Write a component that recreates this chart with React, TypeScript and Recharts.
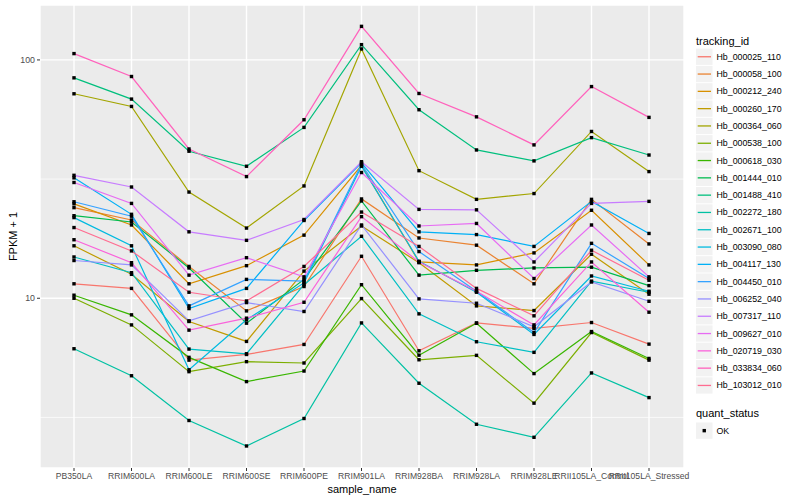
import React from 'react';
import { LineChart, Line, XAxis, YAxis, CartesianGrid } from 'recharts';

const categories = [
  'PB350LA', 'RRIM600LA', 'RRIM600LE', 'RRIM600SE', 'RRIM600PE', 'RRIM901LA',
  'RRIM928BA', 'RRIM928LA', 'RRIM928LE', 'RRII105LA_Control', 'RRII105LA_Stressed',
];

const hb_000025_110 = [11.5, 11.0, 5.5, 5.81, 6.4, 15.0, 6.02, 7.88, 7.47, 7.91, 6.42];
const hb_000058_100 = [24.0, 21.3, 13.6, 8.85, 11.2, 26.1, 17.9, 16.7, 11.5, 26.0, 16.9];
const hb_000212_240 = [24.9, 20.3, 11.5, 13.7, 18.4, 36.1, 14.2, 13.8, 15.5, 23.4, 13.8];
const hb_000260_170 = [16.6, 12.6, 7.99, 6.59, 13.0, 20.1, 14.1, 9.29, 8.88, 15.3, 10.4];
const hb_000364_060 = [72.1, 63.8, 27.9, 19.7, 29.6, 111.2, 34.3, 26.0, 27.5, 50.1, 34.0];
const hb_000538_100 = [10.0, 7.73, 4.92, 5.42, 5.35, 9.97, 5.52, 5.76, 3.63, 7.18, 5.5];
const hb_000618_030 = [10.3, 8.52, 5.65, 4.47, 4.95, 11.4, 5.77, 7.85, 4.83, 7.25, 5.59];
const hb_001444_010 = [22.2, 20.9, 13.4, 7.86, 12.0, 25.6, 12.5, 13.1, 13.4, 13.5, 11.3];
const hb_001488_410 = [84.1, 68.5, 41.4, 35.8, 52.1, 115.9, 61.8, 41.9, 37.7, 47.2, 39.9];
const hb_002272_180 = [6.14, 4.73, 3.07, 2.4, 3.13, 7.88, 4.4, 2.96, 2.61, 4.86, 3.83];
const hb_002671_100 = [14.9, 12.8, 6.12, 5.85, 11.4, 18.2, 8.6, 6.57, 5.93, 11.8, 10.6];
const hb_003090_080 = [21.8, 16.6, 5.01, 8.12, 11.6, 35.8, 14.3, 10.6, 7.05, 12.4, 10.7];
const hb_004117_130 = [32.0, 22.5, 9.05, 11.0, 21.2, 37.0, 19.0, 18.5, 16.5, 25.5, 18.7];
const hb_004450_010 = [25.4, 22.1, 9.29, 12.0, 11.8, 36.5, 15.7, 10.7, 7.18, 17.0, 12.1];
const hb_006252_040 = [14.4, 13.8, 8.04, 9.59, 8.8, 20.3, 9.94, 9.53, 7.59, 11.7, 9.71];
const hb_007317_110 = [32.8, 29.3, 19.0, 17.5, 21.4, 37.4, 23.6, 23.5, 14.2, 25.0, 25.5];
const hb_009627_010 = [30.6, 25.0, 12.5, 14.8, 12.3, 33.7, 20.1, 20.6, 12.1, 20.3, 12.3];
const hb_020719_030 = [17.6, 14.1, 7.35, 8.25, 9.62, 22.0, 14.2, 10.7, 7.73, 14.2, 8.74];
const hb_033834_060 = [106.3, 85.2, 42.3, 32.4, 56.1, 138.3, 72.3, 57.7, 44.0, 77.3, 57.4];
const hb_103012_010 = [19.8, 15.8, 10.6, 9.74, 13.6, 23.0, 16.5, 11.0, 8.44, 15.9, 11.9];

const seriesNames = [
  'Hb_000025_110', 'Hb_000058_100', 'Hb_000212_240', 'Hb_000260_170', 'Hb_000364_060',
  'Hb_000538_100', 'Hb_000618_030', 'Hb_001444_010', 'Hb_001488_410', 'Hb_002272_180',
  'Hb_002671_100', 'Hb_003090_080', 'Hb_004117_130', 'Hb_004450_010', 'Hb_006252_040',
  'Hb_007317_110', 'Hb_009627_010', 'Hb_020719_030', 'Hb_033834_060', 'Hb_103012_010',
];

const seriesValues = [
  hb_000025_110, hb_000058_100, hb_000212_240, hb_000260_170, hb_000364_060,
  hb_000538_100, hb_000618_030, hb_001444_010, hb_001488_410, hb_002272_180,
  hb_002671_100, hb_003090_080, hb_004117_130, hb_004450_010, hb_006252_040,
  hb_007317_110, hb_009627_010, hb_020719_030, hb_033834_060, hb_103012_010,
];

const yTicks = [10, 100];
const yMinorGrid = [3.1623, 31.623];
const quantStatus = ['OK'];

const palette = [
  '#F8766D', '#EA8331', '#D89000', '#C09B00', '#A3A500', '#7CAE00', '#39B600',
  '#00BB4E', '#00BF7D', '#00C1A3', '#00BFC4', '#00BAE0', '#00B0F6', '#35A2FF',
  '#9590FF', '#C77CFF', '#E76BF3', '#FA62DB', '#FF62BC', '#FF6C91',
];

const rows = categories.map((c, i) => {
  const r: Record<string, number | string> = { sample_name: c };
  seriesNames.forEach((n, k) => {
    r[n] = seriesValues[k][i];
  });
  return r;
});

const FONT = '"Liberation Sans", Arial, Helvetica, sans-serif';

const SquareDot = (props: any) => {
  const { cx, cy, index, dataKey } = props;
  if (cx == null || cy == null) return <g key={`e-${dataKey}-${index}`} />;
  return (
    <rect
      key={`d-${dataKey}-${index}`}
      x={cx - 1.7}
      y={cy - 1.7}
      width={3.4}
      height={3.4}
      fill="#000000"
    />
  );
};

const YLabel = (props: any) => {
  const vb = props.viewBox || { x: 0, y: 5, width: 40, height: 463 };
  const cx = vb.x + 13;
  const cy = vb.y + vb.height / 2;
  return (
    <text
      x={cx}
      y={cy}
      transform={`rotate(-90, ${cx}, ${cy})`}
      textAnchor="middle"
      dominantBaseline="central"
      fontSize={11}
      fontFamily={FONT}
      fill="#000000"
    >
      FPKM + 1
    </text>
  );
};

export default function App() {
  const legendTop = 48.1;
  const step = 17.3;
  return (
    <div
      style={{
        position: 'absolute',
        left: 0,
        top: 0,
        width: 800,
        height: 500,
        background: '#FFFFFF',
        fontFamily: FONT,
      }}
    >
      <LineChart
        width={800}
        height={500}
        data={rows}
        margin={{ top: 5, right: 116, bottom: 0, left: 0 }}
      >
        <CartesianGrid
          fill="#EBEBEB"
          stroke="#FFFFFF"
          strokeWidth={0.7}
          vertical={false}
          horizontalValues={yMinorGrid}
        />
        <CartesianGrid stroke="#FFFFFF" strokeWidth={1.4} />
        <XAxis
          dataKey="sample_name"
          scale="point"
          padding={{ left: 34, right: 35 }}
          height={32}
          interval={0}
          axisLine={false}
          tickSize={3}
          tickMargin={2}
          tickLine={{ stroke: '#333333' }}
          tick={{ fill: '#4D4D4D', fontSize: 8.6, fontFamily: FONT }}
          label={{
            value: 'sample_name',
            position: 'insideBottom',
            offset: 7,
            fill: '#000000',
            fontSize: 11,
            fontFamily: FONT,
          }}
        />
        <YAxis
          scale="log"
          domain={[1.94, 170]}
          ticks={yTicks}
          allowDataOverflow
          width={40}
          axisLine={false}
          tickSize={3}
          tickMargin={2}
          tickLine={{ stroke: '#333333' }}
          tick={{ fill: '#4D4D4D', fontSize: 8.8, fontFamily: FONT }}
          label={(p: any) => <YLabel {...p} />}
        />
        {seriesNames.map((n, k) => (
          <Line
            key={n}
            type="linear"
            dataKey={n}
            stroke={palette[k]}
            strokeWidth={1.2}
            dot={false}
            activeDot={false}
            isAnimationActive={false}
          />
        ))}
        {seriesNames.map((n) => (
          <Line
            key={`${n}-pts`}
            type="linear"
            dataKey={n}
            stroke="none"
            dot={<SquareDot />}
            activeDot={false}
            legendType="none"
            isAnimationActive={false}
          />
        ))}
      </LineChart>
      <svg
        width={800}
        height={500}
        style={{ position: 'absolute', left: 0, top: 0, pointerEvents: 'none' }}
      >
        <text x={696} y={40.7} dominantBaseline="central" fontSize={11} fontFamily={FONT} fill="#000000">
          tracking_id
        </text>
        {seriesNames.map((n, k) => {
          const top = legendTop + step * k;
          const mid = top + step / 2;
          return (
            <g key={`lg-${n}`}>
              <rect x={696} y={top + 0.5} width={16.5} height={16.3} fill="#F2F2F2" />
              <line x1={697.7} x2={711} y1={mid} y2={mid} stroke={palette[k]} strokeWidth={1.3} />
              <text x={716.5} y={mid} dominantBaseline="central" fontSize={8.8} fontFamily={FONT} fill="#000000">
                {n}
              </text>
            </g>
          );
        })}
        <text x={696} y={412.7} dominantBaseline="central" fontSize={11} fontFamily={FONT} fill="#000000">
          quant_status
        </text>
        {quantStatus.map((q, i) => {
          const top = 422 + step * i;
          const mid = top + step / 2;
          return (
            <g key={`qs-${q}`}>
              <rect x={696} y={top + 0.5} width={16.5} height={16.3} fill="#F2F2F2" />
              <rect x={704.25 - 1.7} y={mid - 1.7} width={3.4} height={3.4} fill="#000000" />
              <text x={716.5} y={mid} dominantBaseline="central" fontSize={8.8} fontFamily={FONT} fill="#000000">
                {q}
              </text>
            </g>
          );
        })}
      </svg>
    </div>
  );
}
